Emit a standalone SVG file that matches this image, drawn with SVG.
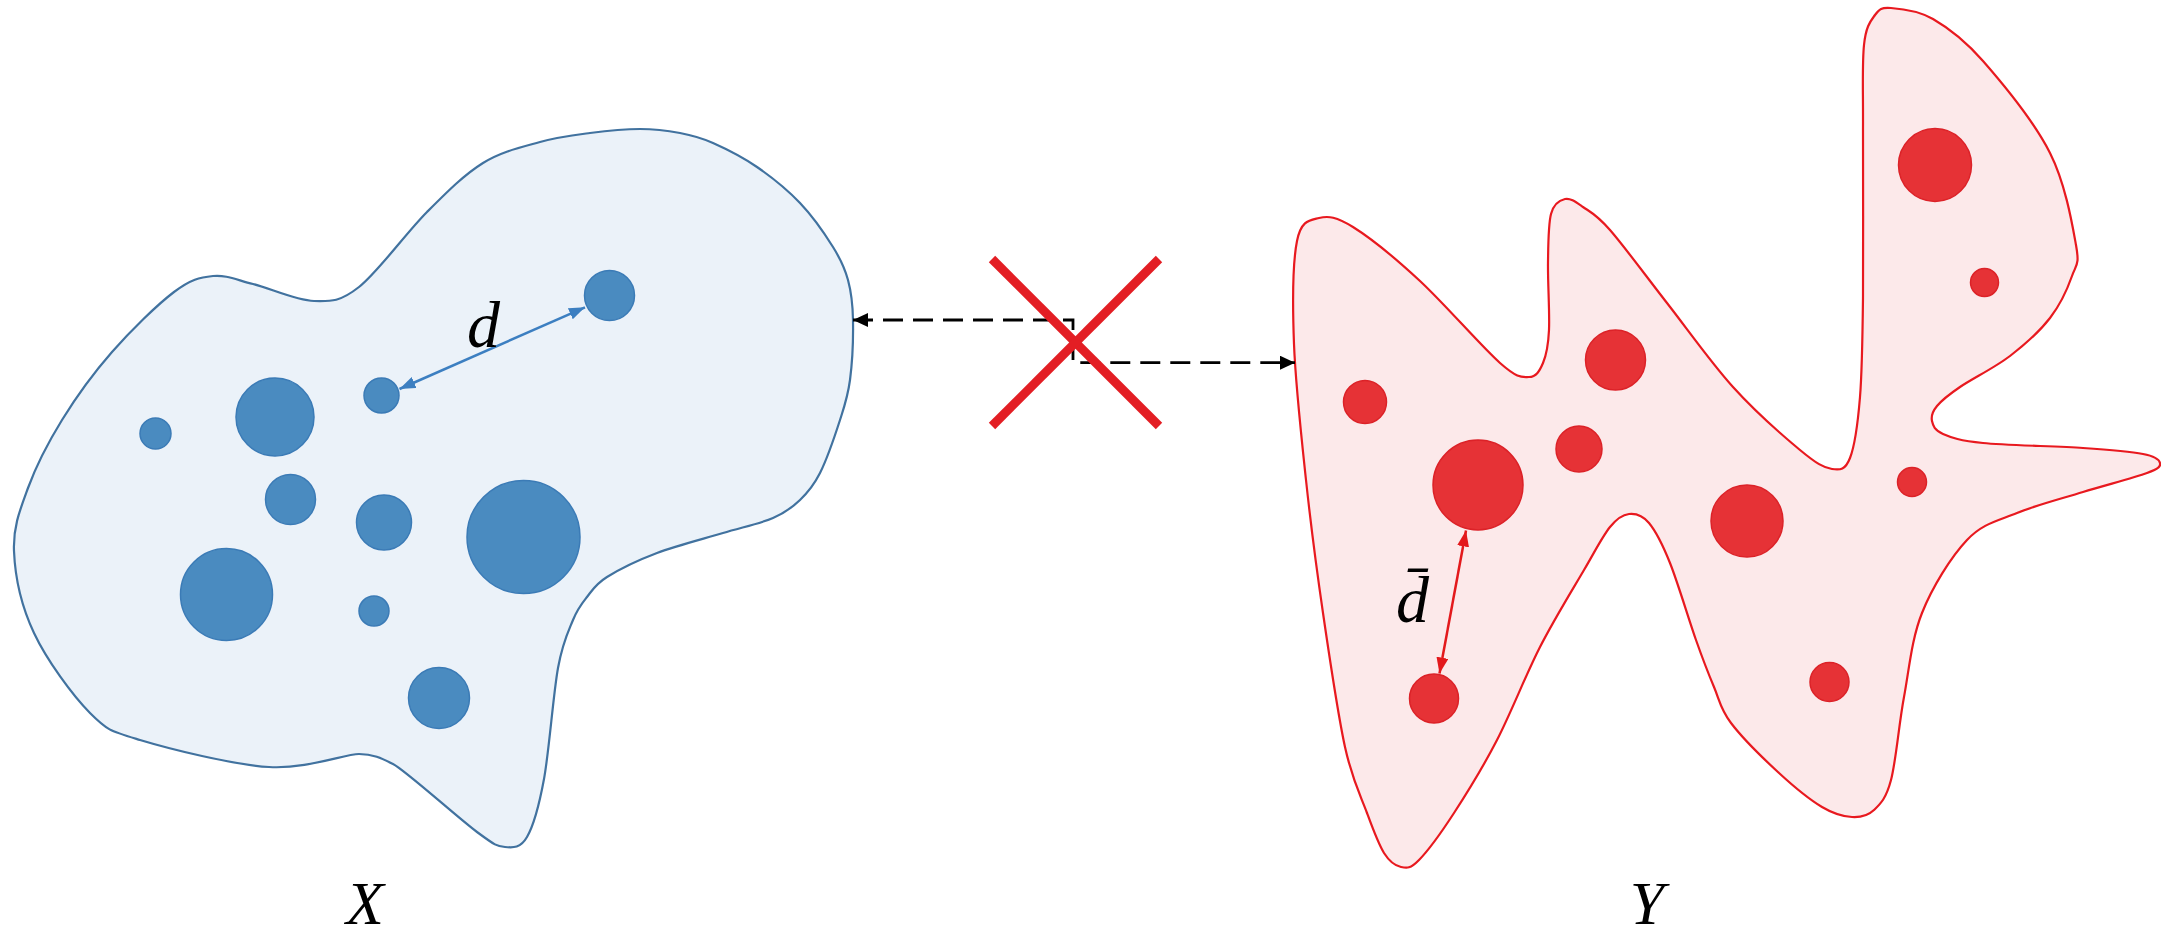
<svg xmlns="http://www.w3.org/2000/svg" width="2161" height="938" viewBox="0 0 2161 938">
<style>
.blobX{fill:#ebf2f9;stroke:#41729f;stroke-width:2.2}
.blobY{fill:#fce9ea;stroke:#e8191f;stroke-width:2.2}
.cb{fill:#4a8bc0;stroke:#3b7bb6;stroke-width:1.5}
.cr{fill:#e63236;stroke:#dc2228;stroke-width:1.5}
.lbl{font-family:"Liberation Serif","DejaVu Serif",serif;font-style:italic;font-size:66px;fill:#000}
.cross{stroke:#e31e24;stroke-width:9;stroke-linecap:butt}
</style>
<defs>
<marker id="ahB" markerUnits="userSpaceOnUse" markerWidth="16" markerHeight="12" viewBox="0 0 16 12" refX="16" refY="6" orient="auto-start-reverse"><path d="M0,0 L16,6 L0,12 Z" fill="#3c7fc1"/></marker>
<marker id="ahR" markerUnits="userSpaceOnUse" markerWidth="16" markerHeight="12" viewBox="0 0 16 12" refX="16" refY="6" orient="auto-start-reverse"><path d="M0,0 L16,6 L0,12 Z" fill="#e3191c"/></marker>
<marker id="ahK" markerUnits="userSpaceOnUse" markerWidth="15" markerHeight="14" viewBox="0 0 15 14" refX="15" refY="7" orient="auto-start-reverse"><path d="M0,0 L15,7 L0,14 Z" fill="#000"/></marker>
</defs>

<g id="setX">
<path class="blobX" d="M483,163 C501.8,151.3 522.2,147 540,142 S573.3,135.2 590,133 S625,129 640,129 S667.8,130.7 680,133 S700.2,137.3 713,143 S742.5,157 757,167 S787.3,189.7 800,203 S825,234.2 833,247 S844.7,267.8 848,280 S852.7,303.3 853,320 S852.2,363.3 850,380 S845,404.5 840,420 S826.7,459.7 820,473 S807.8,492.5 800,500 S785.8,512.5 773,518 S742.3,527.2 723,533 S676.3,545.7 657,553 S618.7,569.7 607,577 S592.7,589.8 587,597 S577.8,608.2 573,620 S562.8,641.5 558,668 S549.2,750.8 544,779 S533.5,825.7 527,837 S513.3,847.8 505,847 S495.7,845.8 477,832 S405,770 393,764 S373,754 359,754 S305.5,769.3 269,767 S169.8,749 140,740 S107.7,730.8 90,713 S46.7,660 34,633 S15,575.2 14,551 S20,509.8 28,488 S48,442.7 62,420 S93.3,373.3 112,352 S157.2,304.7 174,292 S199.8,277.3 213,276 S236.2,279.8 253,284 S296.3,300.5 314,301 S340.2,301.8 359,287 S406.3,232.7 427,212 S464.2,174.7 483,163 Z"/>
<circle class="cb" cx="609.5" cy="295.5" r="25"/>
<circle class="cb" cx="381.5" cy="395.5" r="17.5"/>
<circle class="cb" cx="275" cy="417" r="39"/>
<circle class="cb" cx="155.5" cy="433.5" r="15.5"/>
<circle class="cb" cx="290.5" cy="499.5" r="25"/>
<circle class="cb" cx="384" cy="522.5" r="27.5"/>
<circle class="cb" cx="523.5" cy="537" r="56.5"/>
<circle class="cb" cx="226.5" cy="594.5" r="46"/>
<circle class="cb" cx="374" cy="611" r="15"/>
<circle class="cb" cx="439" cy="698" r="30.5"/>
<line x1="399.5" y1="389" x2="585" y2="307.3" stroke="#3c7fc1" stroke-width="2.5" marker-start="url(#ahB)" marker-end="url(#ahB)"/>
<text class="lbl" x="467" y="347">d</text>
<text class="lbl" x="365" y="924" text-anchor="middle" style="font-size:62px">X</text>
</g>

<g id="setY">
<path class="blobY" d="M1297,241 C1301.2,220 1309.7,220.3 1319,218 S1336.2,216.5 1353,227 S1395.5,258.3 1420,281 S1481.8,347 1500,363 S1521.8,377 1529,377 S1539.7,370.8 1543,363 S1548.2,346.7 1549,330 S1547.7,282.3 1548,263 S1548.2,224.7 1551,214 S1559.7,200.2 1565,199 S1575.5,201.8 1583,207 S1596,214 1610,230 S1646.5,276.8 1667,303 S1710.8,362.5 1733,387 S1783.5,436.3 1800,450 S1823.7,467.7 1832,469 S1845.3,470 1850,458 S1857.8,423.8 1860,397 S1862.5,341.5 1863,297 S1862.8,172 1863,130 S1862,64.2 1864,45 S1870.5,21.2 1875,15 S1881.3,7.3 1891,8 S1917.7,10.2 1933,19 S1963.5,38.7 1983,61 S2034.5,122.3 2050,153 S2072.3,224.5 2076,245 S2076.3,263.8 2072,276 S2060.3,304.7 2050,318 S2025,344.5 2010,356 S1972.2,378.7 1960,387 S1941.7,400.3 1937,406 S1931,416.3 1932,421 S1934.5,430.3 1943,434 S1959.7,440.7 1983,443 S2056.3,446.2 2083,448 S2130.2,451.5 2143,454 S2159.3,459.8 2160,463 S2159.8,468.2 2147,473 S2104.7,485.3 2083,492 S2036.3,505 2017,513 S1982.8,523.3 1967,540 S1932.5,586.8 1922,613 S1909.2,669.2 1904,697 S1896,761.2 1891,780 S1880.5,803.8 1874,810 S1860.7,817.5 1852,817 S1834.2,814.3 1822,807 S1794.2,787 1779,773 S1741.8,737.3 1731,723 S1719.8,700.8 1714,687 S1703.3,660.7 1696,640 S1677.8,582.5 1670,563 S1655.8,531.2 1649,523 S1635.5,513.3 1629,514 S1617.5,517.7 1610,527 S1595.7,550 1584,570 S1554.5,618.7 1540,647 S1511.3,712.3 1497,740 S1467,793 1454,813 S1427.8,851 1419,860 S1406.8,868.2 1401,867 S1389.7,862 1384,853 S1373.5,830.7 1367,813 S1352.3,780.3 1345,747 S1329.5,657.5 1323,613 S1310.8,524.8 1306,480 S1295.5,383.8 1294,344 S1292.8,262 1297,241 Z"/>
<circle class="cr" cx="1935" cy="165" r="36.5"/>
<circle class="cr" cx="1984.5" cy="282.5" r="14"/>
<circle class="cr" cx="1615.5" cy="360" r="30"/>
<circle class="cr" cx="1365" cy="402" r="21.5"/>
<circle class="cr" cx="1579" cy="449" r="23"/>
<circle class="cr" cx="1478" cy="485" r="45"/>
<circle class="cr" cx="1912" cy="482" r="14.5"/>
<circle class="cr" cx="1747" cy="521" r="36"/>
<circle class="cr" cx="1829.5" cy="682" r="19.5"/>
<circle class="cr" cx="1434" cy="698.5" r="24.5"/>
<line x1="1466" y1="530.5" x2="1439.5" y2="673.5" stroke="#e3191c" stroke-width="2.5" marker-start="url(#ahR)" marker-end="url(#ahR)"/>
<text class="lbl" x="1396" y="622">d&#x304;</text>
<text class="lbl" x="1647" y="924" text-anchor="middle" style="font-size:62px">Y</text>
</g>

<g id="connectors">
<path d="M853,320 H1073 V362.7 H1295" fill="none" stroke="#000" stroke-width="2.8" stroke-dasharray="20 10" marker-start="url(#ahK)" marker-end="url(#ahK)"/>
</g>

<g id="cross">
<line class="cross" x1="992" y1="259" x2="1159" y2="426"/>
<line class="cross" x1="1159" y1="259" x2="992" y2="426"/>
</g>
</svg>
